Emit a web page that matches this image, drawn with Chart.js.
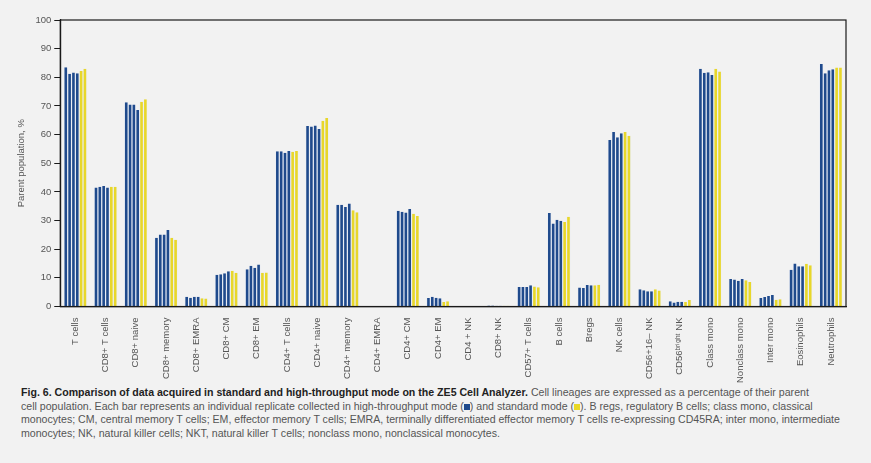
<!DOCTYPE html>
<html>
<head>
<meta charset="utf-8">
<script src="https://cdn.jsdelivr.net/npm/chart.js@4.4.1/dist/chart.umd.min.js"></script>
<style>
  html, body { margin: 0; padding: 0; background: #f2f2f2; }
  body { width: 871px; height: 463px; overflow: hidden; font-family: "Liberation Sans", Arial, sans-serif; }
  #wrap { position: absolute; left: 0; top: 0; width: 871px; height: 386px; }
  #caption {
    position: absolute; left: 21px; top: 386px; width: 840px; white-space: nowrap;
    font-size: 10.6px; line-height: 13.6px; color: #555;
  }
  #caption b { color: #222; }
  .sq { display: inline-block; width: 6px; height: 6px; vertical-align: 0px; }
</style>
</head>
<body>
<div id="wrap"><canvas id="chart"></canvas></div>
<div id="caption">
  <b>Fig. 6. Comparison of data acquired in standard and high-throughput mode on the ZE5 Cell Analyzer.</b> Cell lineages are expressed as a percentage of their parent<br>
  cell population. Each bar represents an individual replicate collected in high-throughput mode (<span class="sq" style="background:#1f4a8c"></span>) and standard mode (<span class="sq" style="background:#e9d825"></span>). B regs, regulatory B cells; class mono, classical<br>
  monocytes; CM, central memory T cells; EM, effector memory T cells; EMRA, terminally differentiated effector memory T cells re-expressing CD45RA; inter mono, intermediate<br>
  monocytes; NK, natural killer cells; NKT, natural killer T cells; nonclass mono, nonclassical monocytes.
</div>
<script>
const categories = [
  "T cells", "CD8+ T cells", "CD8+ naive", "CD8+ memory", "CD8+ EMRA", "CD8+ CM", "CD8+ EM",
  "CD4+ T cells", "CD4+ naive", "CD4+ memory", "CD4+ EMRA", "CD4+ CM", "CD4+ EM", "CD4 + NK",
  "CD8+ NK", "CD57+ T cells", "B cells", "Bregs", "NK cells", "CD56+16\u2013 NK",
  "CD56\u1d47\u02b3\u2071\u1d4d\u02b0\u1d57 NK", "Class mono", "Nonclass mono", "Inter mono", "Eosinophils", "Neutrophils"
];

// high-throughput mode replicates
const htRep1 = [83.5, 41.5, 71.3, 24.0, 3.4, 11.1, 13.0, 54.2, 63.0, 35.5, 0.1, 33.4, 3.0, 0.05, 0.4, 6.8, 32.6, 6.6, 58.1, 6.0, 1.8, 83.0, 9.6, 3.0, 12.8, 84.6];
const htRep2 = [81.2, 41.8, 70.5, 25.1, 3.1, 11.3, 14.2, 54.2, 62.8, 35.5, 0.1, 33.1, 3.4, 0.05, 0.4, 6.8, 29.0, 6.5, 60.9, 5.7, 1.4, 81.6, 9.4, 3.3, 15.0, 81.4];
const htRep3 = [81.7, 42.1, 70.5, 25.1, 3.4, 11.6, 13.5, 53.7, 63.2, 34.7, 0.1, 32.8, 3.1, 0.05, 0.3, 6.8, 30.3, 7.5, 59.1, 5.3, 1.7, 81.8, 9.0, 3.7, 14.1, 82.5];
const htRep4 = [81.4, 41.5, 68.6, 26.7, 3.4, 12.3, 14.7, 54.3, 62.0, 36.0, 0.1, 34.0, 2.9, 0.05, 0.3, 7.4, 29.9, 7.4, 60.5, 5.3, 1.7, 80.8, 9.6, 4.0, 14.1, 82.8];
// standard mode replicates
const stdRep1 = [82.2, 41.8, 71.5, 24.0, 2.9, 12.5, 11.8, 54.0, 64.8, 33.6, 0.1, 32.4, 1.6, 0.05, 0.3, 7.0, 29.5, 7.4, 60.9, 6.0, 1.6, 83.0, 9.2, 2.4, 14.9, 83.4];
const stdRep2 = [83.0, 41.8, 72.3, 23.3, 2.8, 11.8, 11.9, 54.3, 65.8, 32.9, 0.1, 31.6, 1.8, 0.05, 0.3, 6.7, 31.3, 7.6, 59.6, 5.6, 2.3, 82.0, 8.6, 2.5, 14.4, 83.4];

const yTicks = [0, 10, 20, 30, 40, 50, 60, 70, 80, 90, 100];

const BLUE = "#1f4a8c";
const YELLOW = "#e8d72a";

function barSet(label, data, color) {
  return {
    label,
    data,
    backgroundColor: color,
    borderColor: "rgba(225,233,248,0.9)",
    borderWidth: { left: 0.6, right: 0.6, top: 0, bottom: 0 },
    borderSkipped: false,
    categoryPercentage: 0.76,
    barPercentage: 1.0
  };
}

// frame around the plot area
const frame = {
  id: "frame",
  afterDraw(chart) {
    const { ctx, chartArea: a } = chart;
    ctx.save();
    ctx.strokeStyle = "#1a1a1a";
    ctx.lineWidth = 1.2;
    ctx.strokeRect(a.left, a.top, a.right - a.left, a.bottom - a.top);
    ctx.restore();
  }
};

const ctx = document.getElementById("chart");

new Chart(ctx, {
  type: "bar",
  data: {
    labels: categories,
    datasets: [
      barSet("High-throughput 1", htRep1, BLUE),
      barSet("High-throughput 2", htRep2, BLUE),
      barSet("High-throughput 3", htRep3, BLUE),
      barSet("High-throughput 4", htRep4, BLUE),
      barSet("Standard 1", stdRep1, YELLOW),
      barSet("Standard 2", stdRep2, YELLOW)
    ]
  },
  options: {
    responsive: true,
    maintainAspectRatio: false,
    animation: false,
    layout: { padding: { left: 16, right: 25, top: 20, bottom: 0 } },
    plugins: {
      legend: { display: false },
      tooltip: { enabled: false }
    },
    scales: {
      x: {
        grid: { display: false },
        border: { color: "#1a1a1a", width: 1.2 },
        ticks: {
          color: "#555",
          font: { family: "Liberation Sans", size: 9.5 },
          minRotation: 90,
          maxRotation: 90,
          autoSkip: false,
          padding: 3
        }
      },
      y: {
        min: 0,
        max: 100,
        afterBuildTicks(axis) {
          axis.ticks = yTicks.map(v => ({ value: v }));
        },
        grid: { drawOnChartArea: false, drawTicks: true, tickLength: 6, color: "#1a1a1a" },
        border: { color: "#1a1a1a", width: 1.2 },
        ticks: {
          color: "#555",
          font: { family: "Liberation Sans", size: 9.5 },
          padding: 3
        },
        title: {
          display: true,
          text: "Parent population, %",
          color: "#555",
          font: { family: "Liberation Sans", size: 9.5 },
          padding: { top: 0, bottom: 5 }
        }
      }
    }
  },
  plugins: [frame]
});
</script>
</body>
</html>
